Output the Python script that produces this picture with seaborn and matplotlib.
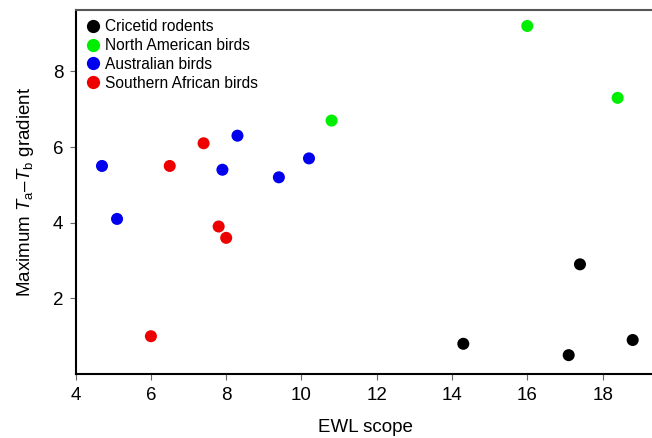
import matplotlib
matplotlib.use("Agg")
import matplotlib.pyplot as plt
import pandas as pd
import seaborn as sns

GROUPS = ["Cricetid rodents", "North American birds", "Australian birds", "Southern African birds"]
COLORS = ["#000000", "#00ee00", "#0000ee", "#ee0000"]

rodents_x = [14.3, 17.1, 17.4, 18.8]
rodents_y = [0.8, 0.5, 2.9, 0.9]
na_birds_x = [10.8, 16.0, 18.4]
na_birds_y = [6.7, 9.2, 7.3]
au_birds_x = [4.7, 5.1, 7.9, 8.3, 9.4, 10.2]
au_birds_y = [5.5, 4.1, 5.4, 6.3, 5.2, 5.7]
sa_birds_x = [6.0, 6.5, 7.4, 7.8, 8.0]
sa_birds_y = [1.0, 5.5, 6.1, 3.9, 3.6]

frames = []
for name, xs, ys in zip(
    GROUPS,
    [rodents_x, na_birds_x, au_birds_x, sa_birds_x],
    [rodents_y, na_birds_y, au_birds_y, sa_birds_y],
):
    frames.append(pd.DataFrame({"scope": xs, "gradient": ys, "group": name}))
df = pd.concat(frames, ignore_index=True)

sns.set_style("ticks")
plt.rcParams["font.family"] = ["Liberation Sans", "DejaVu Sans"]
plt.rcParams["mathtext.fontset"] = "custom"
plt.rcParams["mathtext.rm"] = "Liberation Sans"
plt.rcParams["mathtext.it"] = "Liberation Sans:italic"
plt.rcParams["text.color"] = "black"
plt.rcParams["axes.labelcolor"] = "black"

fig = plt.figure(figsize=(6.52, 4.38), dpi=100)
ax = fig.add_axes([0.116, 0.146, 0.889, 0.831])

sns.scatterplot(
    data=df,
    x="scope",
    y="gradient",
    hue="group",
    hue_order=GROUPS,
    palette=COLORS,
    s=75,
    linewidth=0,
    ax=ax,
)

ax.set_xlim(4, 19.4)
ax.set_ylim(0, 9.62)
ax.set_xticks([4, 6, 8, 10, 12, 14, 16, 18])
ax.set_yticks([2, 4, 6, 8])
ax.tick_params(labelsize=13.5, length=4, width=0.8, color="#666666", labelcolor="black", pad=5)
ax.set_xlabel("EWL scope", fontsize=13.5, labelpad=11)
ax.set_ylabel(r"Maximum $T_\mathrm{a}$–$T_\mathrm{b}$ gradient", fontsize=13.5, labelpad=12)

for side in ["left", "bottom"]:
    ax.spines[side].set_linewidth(1.5)
    ax.spines[side].set_color("black")
ax.spines["top"].set_visible(True)
ax.spines["top"].set_color("#555555")
ax.spines["top"].set_linewidth(1.5)
ax.spines["right"].set_visible(False)

leg = ax.legend(
    loc="upper left",
    frameon=False,
    fontsize=11.2,
    handlelength=1.0,
    handletextpad=0.3,
    labelspacing=0.24,
    borderaxespad=0.3,
    borderpad=0.3,
    markerscale=1.1,
)

fig.savefig("out.png", dpi=100)
